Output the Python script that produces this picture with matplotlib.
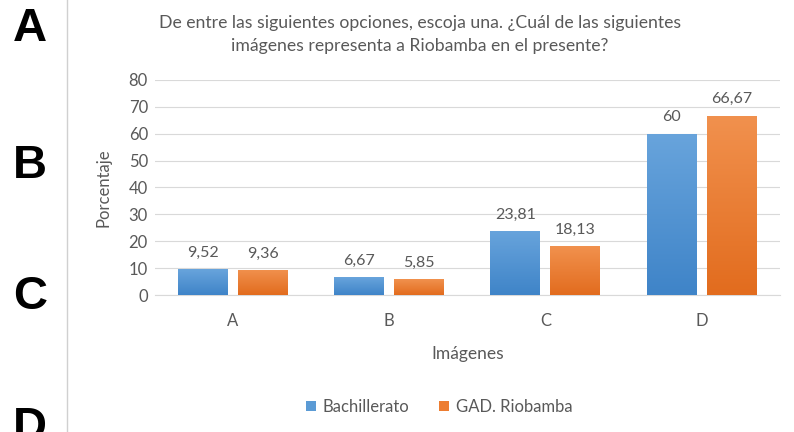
import numpy as np
import matplotlib.pyplot as plt
from matplotlib.colors import LinearSegmentedColormap

plt.rcParams['font.family'] = ['Lato', 'DejaVu Sans']

categorias = ['A', 'B', 'C', 'D']
bachillerato = [9.52, 6.67, 23.81, 60]
gad = [9.36, 5.85, 18.13, 66.67]
etiquetas_b = ['9,52', '6,67', '23,81', '60']
etiquetas_g = ['9,36', '5,85', '18,13', '66,67']
letras = ['A', 'B', 'C', 'D']

gris = '#595959'
fig = plt.figure(figsize=(7.94, 4.32), dpi=100)
ax = fig.add_axes([0.195, 0.317, 0.787, 0.498])

x = np.arange(len(categorias))
w = 0.32
gap = 0.065
b1 = ax.bar(x - (w + gap) / 2, bachillerato, w, color='#5B9BD5', zorder=2)
b2 = ax.bar(x + (w + gap) / 2, gad, w, color='#ED7D31', zorder=2)

# degradado vertical dentro de cada barra
cm_b = LinearSegmentedColormap.from_list('b', ['#3f84c8', '#68a4dc'])
cm_g = LinearSegmentedColormap.from_list('g', ['#e26c1e', '#f1914e'])
grad = np.linspace(0, 1, 100).reshape(-1, 1)
for bars, cm in ((b1, cm_b), (b2, cm_g)):
    for r in bars:
        im = ax.imshow(grad, cmap=cm, origin='lower', aspect='auto', zorder=3,
                       extent=[r.get_x(), r.get_x() + r.get_width(), 0, r.get_height()])
        im.set_clip_path(r)

for r, t in zip(list(b1) + list(b2), etiquetas_b + etiquetas_g):
    ax.text(r.get_x() + r.get_width() / 2, r.get_height() + 3.5, t, ha='center', va='bottom',
            fontsize=11.5, color=gris)

ax.set_xlim(-0.5, 3.5)
ax.set_ylim(0, 80)
ax.set_yticks(range(0, 81, 10))
ax.set_xticks(x)
ax.set_xticklabels(categorias)
ax.tick_params(colors=gris, labelsize=12, length=0)
ax.tick_params(axis='y', pad=5)
ax.tick_params(axis='x', pad=13)
ax.grid(axis='y', color='#d9d9d9', linewidth=0.8, zorder=0)
for s in ['top', 'right', 'left']:
    ax.spines[s].set_visible(False)
ax.spines['bottom'].set_color('#d9d9d9')
ax.set_ylabel('Porcentaje', color=gris, fontsize=12, labelpad=12)
ax.set_xlabel('Imágenes', color=gris, fontsize=12.5, labelpad=12)

fig.text(0.529, 0.966, 'De entre las siguientes opciones, escoja una. ¿Cuál de las siguientes\n'
         'imágenes representa a Riobamba en el presente?', ha='center', va='top',
         fontsize=12.7, color=gris, linespacing=1.55)

leg = fig.legend([b1, b2], ['Bachillerato', 'GAD. Riobamba'], loc='center',
                 bbox_to_anchor=(0.553, 0.058), ncol=2, frameon=False, fontsize=12,
                 handlelength=0.6, handleheight=0.6, columnspacing=1.8, handletextpad=0.4)
for t in leg.get_texts():
    t.set_color(gris)

# letras de panel y separador
for letra, yy in zip(letras, [0.932, 0.615, 0.312, 0.01]):
    fig.text(0.038, yy, letra, ha='center', va='center', fontsize=34,
             fontweight='bold', family='Liberation Sans')
fig.add_artist(plt.Line2D([0.0845, 0.0845], [0, 1], color='#d0d0d0', linewidth=1))

fig.savefig('out.png', dpi=100)
